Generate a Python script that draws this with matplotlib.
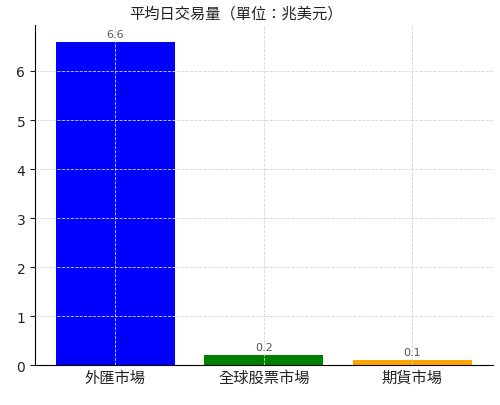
import matplotlib
matplotlib.use("Agg")
import matplotlib.pyplot as plt

plt.rcParams['font.family'] = ['DejaVu Sans', 'Noto Sans CJK TC']

markets = ['外匯市場', '全球股票市場', '期貨市場']
volumes = [6.6, 0.2, 0.1]
colors = ['blue', 'green', 'orange']

fig, ax = plt.subplots(figsize=(5.0, 4.06), dpi=100)
bars = ax.bar(markets, volumes, color=colors, width=0.8)

for b, v in zip(bars, volumes):
    ax.text(b.get_x() + b.get_width() / 2, b.get_height() + 0.06, str(v),
            ha='center', va='bottom', fontsize=8, color='#555555')

ax.set_title('平均日交易量（單位：兆美元）', fontsize=11, color='#222222',
             x=0.44, family=['Noto Sans CJK TC'], fontweight='medium')
ax.grid(True, linestyle='--', color='#d5d5d5', linewidth=0.6)
ax.set_axisbelow(False)
ax.spines['top'].set_visible(False)
ax.spines['right'].set_visible(False)
ax.tick_params(axis='x', labelsize=11, length=0, colors='#222222')
ax.tick_params(axis='y', labelsize=10, colors='#222222')

fig.subplots_adjust(left=0.07, right=0.985, top=0.935, bottom=0.098)
fig.savefig('out.png')
